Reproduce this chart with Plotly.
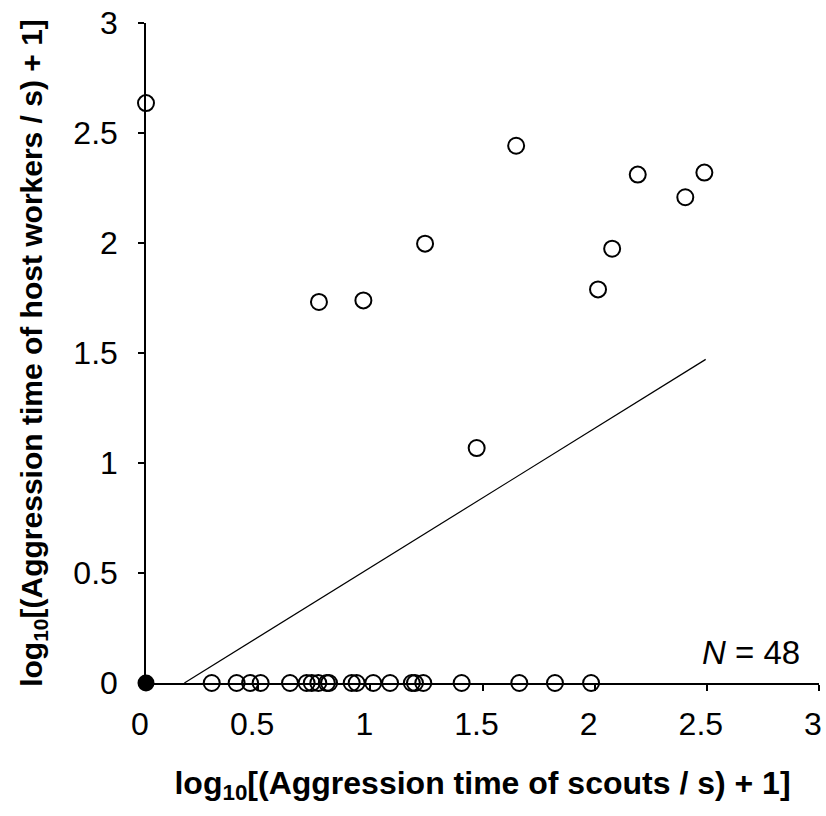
import plotly.graph_objects as go

# Scatter points (open circles)
x_open = [0.0, 0.771, 0.969, 1.244, 1.474, 1.650, 2.015, 2.078, 2.192, 2.404, 2.489,
          0.293, 0.404, 0.464, 0.511, 0.642, 0.716, 0.739, 0.768, 0.806, 0.816,
          0.917, 0.939, 1.013, 1.088, 1.185, 1.199, 1.236, 1.407, 1.664, 1.823, 1.984]
y_open = [2.636, 1.732, 1.739, 1.997, 1.068, 2.442, 1.789, 1.974, 2.311, 2.208, 2.320,
          0, 0, 0, 0, 0, 0, 0, 0, 0, 0,
          0, 0, 0, 0, 0, 0, 0, 0, 0, 0, 0]
# Overlapping points at origin (filled)
x_filled = [0.0]
y_filled = [0.0]
# Regression line
line_x = [0.171, 2.495]
line_y = [0.0, 1.471]

tick_vals = [0, 0.5, 1, 1.5, 2, 2.5, 3]
tick_text = ["0", "0.5", "1", "1.5", "2", "2.5", "3"]

fig = go.Figure()
fig.add_trace(go.Scatter(x=line_x, y=line_y, mode="lines",
                         line=dict(color="black", width=1.2), showlegend=False))
fig.add_trace(go.Scatter(x=x_open, y=y_open, mode="markers",
                         marker=dict(symbol="circle-open", size=16, color="black",
                                     line=dict(width=2, color="black")),
                         cliponaxis=False, showlegend=False))
fig.add_trace(go.Scatter(x=x_filled, y=y_filled, mode="markers",
                         marker=dict(symbol="circle", size=17, color="black"),
                         cliponaxis=False, showlegend=False))

fig.add_annotation(x=1, y=0, xref="paper", yref="paper", xanchor="right", yanchor="bottom",
                   text="<i>N</i> = 48", showarrow=False, xshift=-17, yshift=10,
                   font=dict(family="Liberation Sans, Arial", size=33, color="black"))

axis_font = dict(family="Liberation Sans, Arial", size=32, color="black")

fig.update_layout(
    width=826, height=816,
    margin=dict(l=146, r=7, t=23, b=133),
    paper_bgcolor="white", plot_bgcolor="white",
    xaxis=dict(range=[0, 3], tickvals=tick_vals, ticktext=tick_text, automargin=False,
               showgrid=False, zeroline=False, showline=True, linecolor="black", linewidth=1.5,
               ticks="outside", ticklen=6, tickwidth=1.5, tickcolor="black",
               tickfont=axis_font, ticklabelstandoff=6, ticklabelshift=-6,
               ticklabeloverflow="allow",
               title=dict(text="<b>log<sub>10</sub>[(Aggression time of scouts / s) + 1]</b>",
                          font=dict(family="Liberation Sans, Arial", size=32, color="black",
                                    weight="bold"),
                          standoff=30)),
    yaxis=dict(range=[0, 3], tickvals=tick_vals, ticktext=tick_text, automargin=False,
               showgrid=False, zeroline=False, showline=True, linecolor="black", linewidth=1.5,
               ticks="outside", ticklen=6, tickwidth=1.5, tickcolor="black",
               tickfont=axis_font, ticklabelstandoff=14,
               title=dict(text="<b>log<sub>10</sub>[(Aggression time of host workers / s) + 1]</b>",
                          font=dict(family="Liberation Sans, Arial", size=30, color="black",
                                    weight="bold"),
                          standoff=22)),
)

fig.write_html("out.html")
